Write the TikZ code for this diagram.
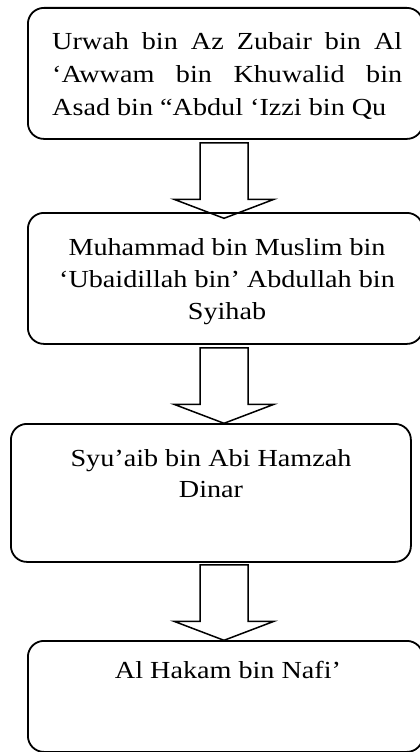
\documentclass[tikz,border=0pt]{standalone}
\usepackage{fontspec}
\setmainfont[FakeStretch=1.15]{Liberation Serif}
\begin{document}
\begin{tikzpicture}[x=1pt,y=-1pt,
  box/.style={draw, line width=1.8pt, rounded corners=16pt, inner sep=0pt, anchor=north west},
  arr/.style={draw, line width=1.5pt, line join=miter},
  txt/.style={inner sep=0pt, font=\fontsize{24.5}{33}\selectfont},
  blockarrow/.pic={\path[arr] (-24,0) -- (24,0) -- (24,56.5) -- (50,56.5) -- (0,75.5) -- (-50,56.5) -- (-24,56.5) -- cycle;}]
\useasboundingbox (0,0) rectangle (420,752);
% boxes
\node[box, minimum width=395pt, minimum height=131pt] (b1) at (27,7) {};
\node[box, minimum width=395pt, minimum height=131pt] (b2) at (27,212) {};
\node[box, minimum width=400pt, minimum height=138pt] (b3) at (10,423) {};
\node[box, minimum width=395pt, minimum height=111pt] (b4) at (27,640) {};
% texts
\node[txt, anchor=base west] (t11) at (52,49) {\hbox to 350pt{Urwah\hfill bin\hfill Az\hfill Zubair\hfill bin\hfill Al}};
\node[txt, anchor=base west] (t12) at (52,82) {\hbox to 350pt{‘Awwam\hfill bin\hfill Khuwalid\hfill bin}};
\node[txt, anchor=base west] (t13) at (52,115) {Asad bin “Abdul ‘Izzi bin Qu};
\node[txt, anchor=base] (t21) at (227,255) {Muhammad bin Muslim bin};
\node[txt, anchor=base] (t22) at (227,287) {‘Ubaidillah bin’ Abdullah bin};
\node[txt, anchor=base] (t23) at (227,319) {Syihab};
\node[txt, anchor=base] (t31) at (211,466) {Syu’aib bin Abi Hamzah};
\node[txt, anchor=base] (t32) at (211,497) {Dinar};
\node[txt, anchor=base] (t41) at (228,678) {Al Hakam bin Nafi’};
% block arrows between boxes
\coordinate (a1) at (b1.south -| 224,0);
\coordinate (a2) at (b2.south -| 224,0);
\coordinate (a3) at (b3.south -| 224,0);
\pic at ([yshift=-3pt]a1) {blockarrow};
\pic at ([yshift=-3pt]a2) {blockarrow};
\pic at ([yshift=-2pt]a3) {blockarrow};
\end{tikzpicture}
\end{document}
